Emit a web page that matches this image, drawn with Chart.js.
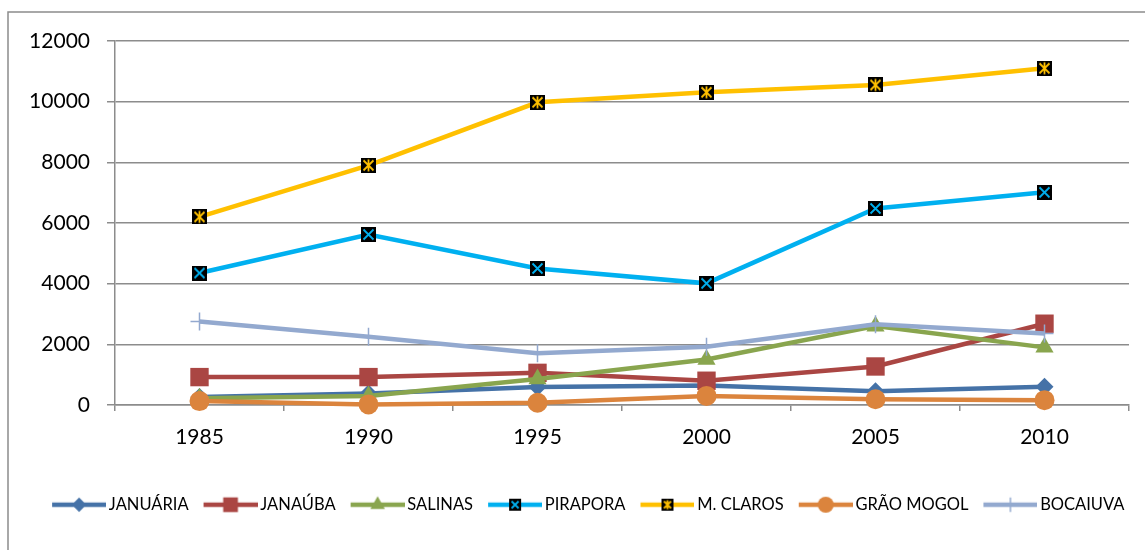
<!DOCTYPE html>
<html>
<head>
<meta charset="utf-8">
<script src="https://cdn.jsdelivr.net/npm/chart.js@4.4.1/dist/chart.umd.min.js"></script>
<style>
    html, body { margin: 0; padding: 0; background: #fff; }
    #wrap { width: 1145px; height: 550px; position: relative; }
</style>
</head>
<body>
<div id="wrap"><canvas id="myChart" width="1145" height="550"></canvas></div>
<script>
const years = ['1985', '1990', '1995', '2000', '2005', '2010'];
const seriesNames = ['JANUÁRIA', 'JANAÚBA', 'SALINAS', 'PIRAPORA', 'M. CLAROS', 'GRÃO MOGOL', 'BOCAIUVA'];
const januaria = [260, 380, 590, 640, 450, 600];
const janauba = [920, 920, 1060, 800, 1270, 2680];
const salinas = [220, 300, 860, 1500, 2600, 1900];
const pirapora = [4350, 5620, 4500, 4010, 6480, 7010];
const mClaros = [6200, 7900, 9980, 10310, 10550, 11100];
const graoMogol = [130, 20, 75, 300, 190, 160];
const bocaiuva = [2750, 2250, 1710, 1920, 2660, 2360];
const yTicks = [0, 2000, 4000, 6000, 8000, 10000, 12000];

const colors = ['#4572A7', '#AA4643', '#89A54E', '#00B0F0', '#FFC000', '#DB843D', '#93A9CF'];
const FONT = 'Lato, "Open Sans", sans-serif';
const GRID = '#8c8c8c';
const LEGEND_SIZE = 16.5;
const BOX_W = 50;

// black box marker with a coloured X (and a bar for the star version)
function boxMarker(color, star, side) {
    const c = document.createElement('canvas');
    c.width = side;
    c.height = side;
    const g = c.getContext('2d');
    g.fillStyle = '#000';
    g.fillRect(0, 0, side, side);
    g.strokeStyle = color;
    g.lineWidth = 1.8;
    g.beginPath();
    g.moveTo(2.5, 2.5); g.lineTo(side - 2.5, side - 2.5);
    g.moveTo(side - 2.5, 2.5); g.lineTo(2.5, side - 2.5);
    if (star) {
        g.moveTo(side / 2, 1.5); g.lineTo(side / 2, side - 1.5);
    }
    g.stroke();
    return c;
}

const piraMark = boxMarker(colors[3], false, 15);
const clarosMark = boxMarker(colors[4], true, 15);

const styles = ['rectRot', 'rect', 'triangle', piraMark, clarosMark, 'circle', 'cross'];
const radii = [9, 13, 10.5, 8, 8, 10, 9];

function drawShape(g, style, color, x, y, r) {
    g.fillStyle = color;
    g.strokeStyle = color;
    g.beginPath();
    if (style === 'rectRot') {
        g.moveTo(x - r, y); g.lineTo(x, y - r); g.lineTo(x + r, y); g.lineTo(x, y + r);
        g.closePath(); g.fill();
    } else if (style === 'rect') {
        const s = r * Math.SQRT1_2;
        g.rect(x - s, y - s, 2 * s, 2 * s); g.fill();
    } else if (style === 'triangle') {
        g.moveTo(x, y - r); g.lineTo(x + r * 0.866, y + r / 2); g.lineTo(x - r * 0.866, y + r / 2);
        g.closePath(); g.fill();
    } else if (style === 'circle') {
        g.arc(x, y, r, 0, Math.PI * 2); g.fill();
    } else if (style === 'cross') {
        g.lineWidth = 1.5;
        g.moveTo(x, y - r); g.lineTo(x, y + r); g.moveTo(x - r, y); g.lineTo(x + r, y);
        g.stroke();
    } else {
        g.drawImage(style, x - style.width / 2, y - style.height / 2);
    }
}

// legend symbol: short line with the marker in the middle.
// the image is wider than the legend box so the line ends close to the text
function legendSymbol(i) {
    const extra = LEGEND_SIZE / 2 - 3;
    const c = document.createElement('canvas');
    c.width = Math.round(BOX_W + 2 * extra);
    c.height = 22;
    const g = c.getContext('2d');
    const x1 = c.width;
    const x0 = x1 - 54;
    g.strokeStyle = colors[i];
    g.lineWidth = 4.5;
    g.beginPath();
    g.moveTo(x0, 11); g.lineTo(x1, 11);
    g.stroke();
    let st = styles[i];
    if (i === 3) st = boxMarker(colors[3], false, 12);
    if (i === 4) st = boxMarker(colors[4], true, 12);
    drawShape(g, st, colors[i], (x0 + x1) / 2, 11, radii[i] * 0.8);
    return c;
}

const allData = [januaria, janauba, salinas, pirapora, mClaros, graoMogol, bocaiuva];

function getDatasets() {
    let datasets = [];
    for (let i = 0; i < allData.length; i++) {
        datasets.push({
            label: seriesNames[i],
            data: allData[i],
            borderColor: colors[i],
            backgroundColor: colors[i],
            borderWidth: 4.5,
            pointStyle: styles[i],
            pointRadius: radii[i],
            pointHoverRadius: radii[i],
            pointBackgroundColor: colors[i],
            pointBorderColor: colors[i],
            pointBorderWidth: styles[i] === 'cross' ? 1.5 : 0,
            tension: 0,
            fill: false,
            clip: false,
            order: allData.length - i
        });
    }
    return datasets;
}

const frame = {
    id: 'frame',
    beforeDraw(chart) {
        const g = chart.ctx;
        g.save();
        g.fillStyle = '#fff';
        g.fillRect(0, 0, chart.width, chart.height);
        g.strokeStyle = GRID;
        g.lineWidth = 1.5;
        g.strokeRect(8, 12, chart.width + 20, chart.height + 20);
        g.restore();
    },
    // the original legend sits a little right of the canvas centre
    afterLayout(chart) {
        chart.legend.left += 18;
        chart.legend.right += 18;
    }
};

const ctx = document.getElementById('myChart');
const myChart = new Chart(ctx, {
    type: 'line',
    data: {
        labels: years,
        datasets: getDatasets()
    },
    options: {
        responsive: false,
        animation: false,
        devicePixelRatio: 1,
        layout: {
            padding: { left: 10, right: 16, top: 41, bottom: 27 }
        },
        scales: {
            x: {
                offset: true,
                grid: {
                    offset: true,
                    drawOnChartArea: false,
                    drawTicks: true,
                    tickLength: 6,
                    color: GRID,
                    lineWidth: 1.5
                },
                border: { color: GRID, width: 1.5 },
                ticks: {
                    font: { family: FONT, size: 21 },
                    color: '#000',
                    padding: 14,
                    maxRotation: 0
                },
                afterFit(scale) { scale.height = 78; }
            },
            y: {
                min: 0,
                max: 12000,
                afterBuildTicks(scale) {
                    scale.ticks = yTicks.map(v => ({ value: v }));
                },
                grid: {
                    color: GRID,
                    lineWidth: 1.5,
                    tickLength: 8
                },
                border: { color: GRID, width: 1.5 },
                ticks: {
                    font: { family: FONT, size: 21 },
                    color: '#000',
                    padding: 17,
                    callback: value => String(value)
                },
                afterFit(scale) { scale.width = 105; }
            }
        },
        plugins: {
            legend: {
                position: 'bottom',
                labels: {
                    font: { family: FONT, size: LEGEND_SIZE },
                    color: '#000',
                    usePointStyle: true,
                    pointStyleWidth: BOX_W,
                    padding: 13.5,
                    generateLabels(chart) {
                        return chart.data.datasets.map((ds, i) => ({
                            text: ds.label,
                            pointStyle: legendSymbol(i),
                            fillStyle: colors[i],
                            strokeStyle: colors[i],
                            lineWidth: 0,
                            fontColor: '#000',
                            hidden: false,
                            datasetIndex: i
                        }));
                    }
                }
            },
            tooltip: { enabled: false }
        }
    },
    plugins: [frame]
});
</script>
</body>
</html>
